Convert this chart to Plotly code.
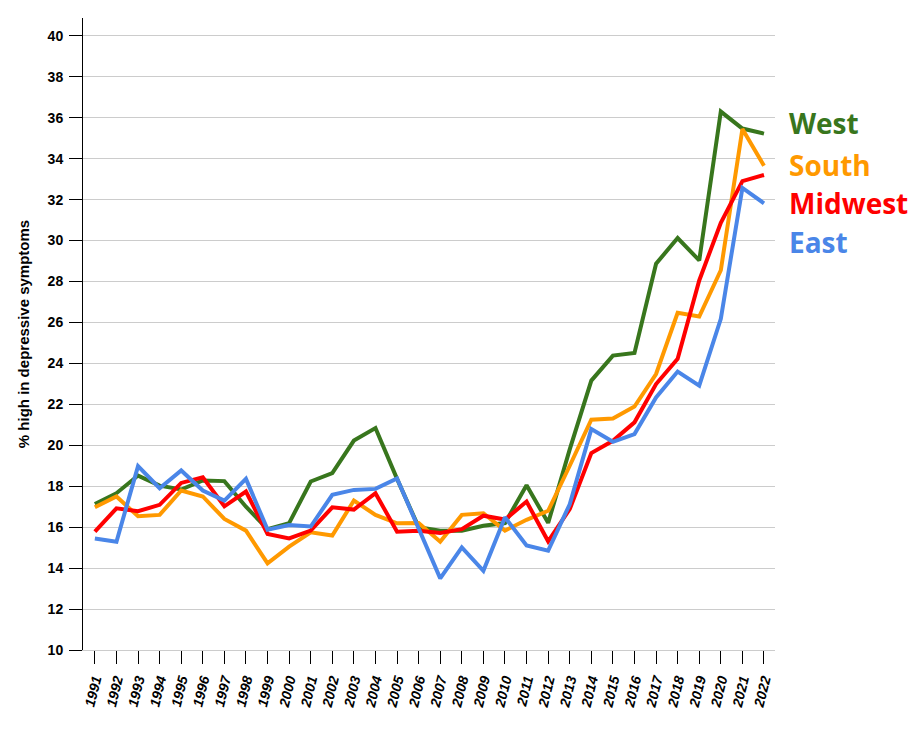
import plotly.graph_objects as go

years = list(range(1991, 2023))
west = [17.13, 17.66, 18.52, 18.03, 17.84, 18.28, 18.25, 17.0, 15.9, 16.2,
        18.23, 18.64, 20.23, 20.84, 18.36, 16.0, 15.83, 15.83, 16.07, 16.2,
        18.05, 16.21, 19.8, 23.16, 24.38, 24.51, 28.87, 30.12, 29.03, 36.3,
        35.47, 35.22]
south = [16.97, 17.5, 16.53, 16.6, 17.79, 17.5, 16.4, 15.83, 14.23, 15.05,
         15.75, 15.59, 17.3, 16.6, 16.19, 16.2, 15.29, 16.6, 16.68, 15.83,
         16.36, 16.8, 19.0, 21.25, 21.31, 21.89, 23.48, 26.47, 26.29, 28.55,
         35.45, 33.65]
midwest = [15.78, 16.92, 16.78, 17.09, 18.16, 18.44, 17.02, 17.74, 15.67, 15.45,
           15.83, 16.97, 16.86, 17.66, 15.78, 15.83, 15.72, 15.9, 16.56, 16.37,
           17.25, 15.31, 16.88, 19.62, 20.22, 21.12, 22.99, 24.22, 28.05, 30.87,
           32.9, 33.2]
east = [15.45, 15.29, 18.98, 17.9, 18.77, 17.79, 17.3, 18.36, 15.88, 16.1,
        16.03, 17.58, 17.82, 17.87, 18.38, 15.95, 13.5, 15.01, 13.87, 16.48,
        15.11, 14.85, 17.12, 20.79, 20.17, 20.55, 22.34, 23.6, 22.91, 26.18,
        32.57, 31.82]

series = [
    ("West", west, "#38761d", 35.75),
    ("South", south, "#ff9900", 33.69),
    ("Midwest", midwest, "#ff0000", 31.84),
    ("East", east, "#4a86e8", 29.93),
]
y_ticks = list(range(10, 41, 2))

fig = go.Figure()
for name, vals, color, _ in series:
    fig.add_trace(go.Scatter(x=years, y=vals, mode="lines", name=name,
                             line=dict(color=color, width=4)))

for name, vals, color, ly in series:
    fig.add_annotation(x=1.017, y=ly, xref="paper", yref="y", text=name,
                       showarrow=False, xanchor="left", yanchor="middle",
                       font=dict(family="Open Sans", size=28, color=color, weight="bold"))

fig.update_layout(
    width=916, height=730,
    margin=dict(l=75, r=149, t=10, b=88),
    plot_bgcolor="white", paper_bgcolor="white",
    showlegend=False,
    font=dict(family="Liberation Sans", color="black"),
)
fig.update_xaxes(
    range=[1990.45, 2022.51], tickvals=years, ticktext=[str(y) for y in years],
    tickangle=-76, ticks="outside", ticklen=13, tickcolor="black", tickwidth=1,
    ticklabelstandoff=2,
    showgrid=False, showline=True, linecolor="#cccccc", linewidth=1,
    tickfont=dict(family="Liberation Sans", size=14, weight="bold", style="italic", color="black"),
    zeroline=False,
)
fig.update_yaxes(
    range=[10, 40.87], tickvals=y_ticks, ticks="outside", ticklen=13,
    tickcolor="black", tickwidth=1, showline=True, linecolor="black", linewidth=1,
    ticklabelstandoff=3,
    showgrid=True, gridcolor="#cccccc", gridwidth=1, zeroline=False,
    tickfont=dict(family="Liberation Sans", size=14, weight="bold", color="black"),
    title=dict(text="% high in depressive symptoms", standoff=14,
               font=dict(family="Liberation Sans", size=15, weight="bold", color="black")),
)
fig.write_html("out.html")
